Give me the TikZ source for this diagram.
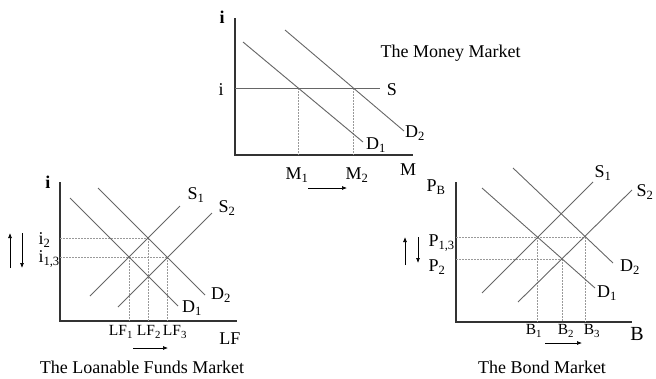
\documentclass[tikz,border=0pt]{standalone}
\usepackage{xcolor}
\usepackage{fontspec}
\setmainfont{Liberation Serif}
\usepackage{tikz}
\usetikzlibrary{positioning,arrows.meta}

\begin{document}
\begin{tikzpicture}[x=1pt, y=-1pt, font=\fontsize{18}{20}\selectfont,
    axisline/.style={line width=1.3pt, black!80},
    curveline/.style={line width=0.9pt, black!60},
    guideline/.style={line width=0.5pt, black!40, dash pattern=on 2pt off 1pt},
    moveline/.style={line width=0.7pt, -{Latex[length=5pt,width=4pt]}},
    ticklabel/.style={font=\fontsize{15.5}{17}\selectfont}]

  \useasboundingbox (0,0) rectangle (656,378);

  % The money market (top)
  \draw[axisline] (235,18) -- (235,155) -- (413,155);
  \draw[guideline] (298,88) -- (298,155);
  \draw[guideline] (353,88) -- (353,155);
  \draw[curveline] (235,88) -- (380,88);
  \draw[curveline] (243,42) -- (363,142);
  \draw[curveline] (285,30) -- (404,131);
  \draw[moveline] (308,188) -- (347,188);

  \foreach \x/\y/\lab in {
    222/17/\bfseries i,
    221/90/i,
    392/90/S,
    376/145/D\textsubscript{1},
    415/133/D\textsubscript{2},
    297/175/M\textsubscript{1},
    357/175/M\textsubscript{2},
    408/170/M}
    \node at (\x,\y) {\lab};
  \node[anchor=west] at (377,53) {The Money Market};

  % The loanable funds market (left)
  \draw[axisline] (60,182) -- (60,321) -- (237,321);
  \draw[guideline] (60,238) -- (148,238);
  \draw[guideline] (60,257) -- (167,257);
  \draw[guideline] (129,257) -- (129,321);
  \draw[guideline] (148,238) -- (148,321);
  \draw[guideline] (167,257) -- (167,321);
  \draw[curveline] (70,198) -- (178,306);
  \draw[curveline] (98,188) -- (205,295);
  \draw[curveline] (90,296) -- (180,206);
  \draw[curveline] (118,307) -- (212,213);
  \draw[moveline] (10,268) -- (10,233);
  \draw[moveline] (22,233) -- (22,268);
  \draw[moveline] (133,348) -- (168,348);

  \foreach \x/\y/\lab in {
    48/182/\bfseries i,
    196/195/S\textsubscript{1},
    227/208/S\textsubscript{2},
    192/308/D\textsubscript{1},
    221/295/D\textsubscript{2},
    230/339/LF,
    142/367/The Loanable Funds Market}
    \node at (\x,\y) {\lab};
  \node[anchor=west] at (35,240) {i\textsubscript{2}};
  \node[anchor=west] at (35,259) {i\textsubscript{1,3}};
  \foreach \x/\lab in {121/LF\textsubscript{1}, 149/LF\textsubscript{2}, 175/LF\textsubscript{3}}
    \node[ticklabel] at (\x,332) {\lab};

  % The bond market (right)
  \draw[axisline] (456,182) -- (456,322) -- (632,322);
  \draw[guideline] (456,237) -- (585,237);
  \draw[guideline] (456,259) -- (562,259);
  \draw[guideline] (537,237) -- (537,322);
  \draw[guideline] (562,259) -- (562,322);
  \draw[guideline] (585,237) -- (585,322);
  \draw[curveline] (482,188) -- (595,288);
  \draw[curveline] (513,168) -- (613,263);
  \draw[curveline] (482,293) -- (593,182);
  \draw[curveline] (518,302) -- (632,190);
  \draw[moveline] (405,265) -- (405,237);
  \draw[moveline] (418,237) -- (418,263);
  \draw[moveline] (545,343) -- (582,343);

  \foreach \x/\y/\lab in {
    436/187/P\textsubscript{B},
    603/173/S\textsubscript{1},
    645/192/S\textsubscript{2},
    607/293/D\textsubscript{1},
    630/267/D\textsubscript{2},
    542/367/The Bond Market}
    \node at (\x,\y) {\lab};
  \node[font=\fontsize{20}{22}\selectfont] at (637,334) {B};
  \node[anchor=west] at (425,243) {P\textsubscript{1,3}};
  \node[anchor=west] at (425,267) {P\textsubscript{2}};
  \foreach \x/\lab in {534/B\textsubscript{1}, 566/B\textsubscript{2}, 592/B\textsubscript{3}}
    \node[ticklabel] at (\x,331) {\lab};

\end{tikzpicture}
\end{document}
